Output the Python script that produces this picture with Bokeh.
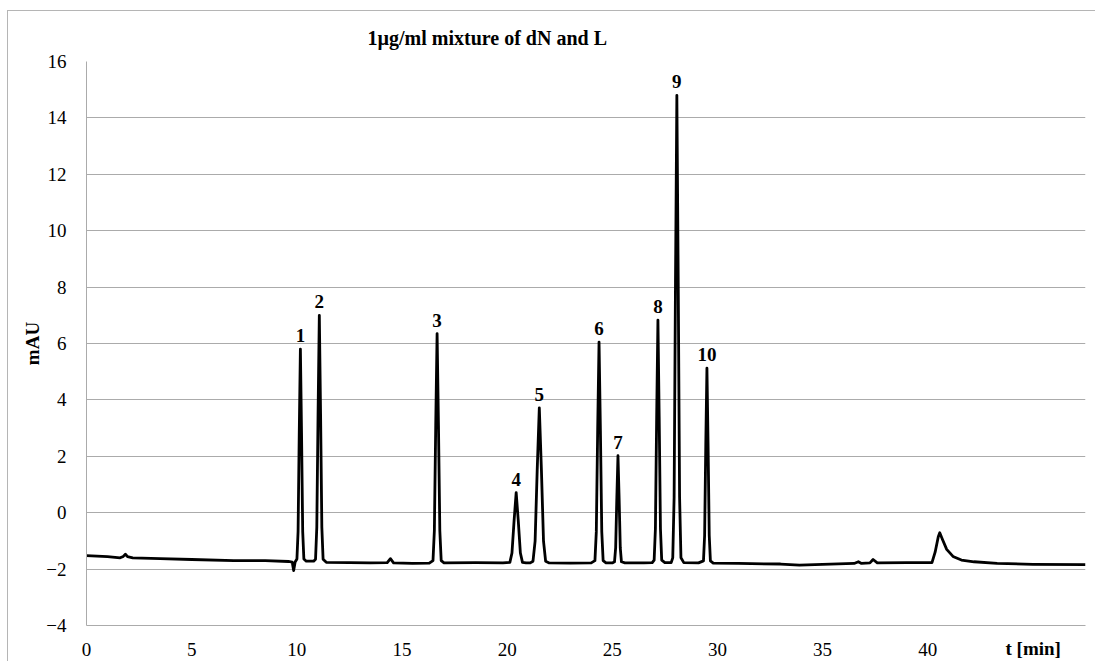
from bokeh.plotting import figure
from bokeh.models import Range1d, Title, FixedTicker, ColumnDataSource
from bokeh.embed import file_html
from bokeh.resources import INLINE
from bokeh.core.properties import value

# chromatogram trace (t in min, signal in mAU)
t_min = [0.0, 1.0, 1.6, 1.75, 1.85, 1.95, 2.2, 3.5, 5.0, 7.0, 8.5, 9.6, 9.78, 9.85, 9.92,
         10.005, 10.06, 10.115, 10.17, 10.225, 10.28, 10.335, 10.45, 10.8,
         10.89, 10.95, 11.01, 11.07, 11.13, 11.19, 11.25, 11.4,
         12.5, 13.5, 14.3, 14.45, 14.6, 15.5, 16.3,
         16.475, 16.54, 16.605, 16.67, 16.735, 16.8, 16.865, 17.0, 18.5, 19.8,
         20.13, 20.23, 20.33, 20.43, 20.53, 20.63, 20.73, 20.9, 21.1,
         21.23, 21.33, 21.43, 21.53, 21.63, 21.73, 21.83, 22.0, 23.0, 24.0,
         24.175, 24.24, 24.305, 24.37, 24.435, 24.5, 24.565, 24.7, 25.0,
         25.105, 25.16, 25.215, 25.27, 25.325, 25.38, 25.435, 25.6, 26.5, 26.9,
         26.99, 27.05, 27.11, 27.17, 27.23, 27.29, 27.35, 27.5, 27.8,
         27.875, 27.94, 28.005, 28.07, 28.135, 28.2, 28.265, 28.4, 29.1,
         29.335, 29.39, 29.445, 29.5, 29.555, 29.61, 29.665, 29.8,
         31.0, 33.0, 33.9, 35.0, 36.5, 36.7, 36.85, 37.25, 37.4, 37.6, 39.0, 40.2,
         40.35, 40.5, 40.57, 40.7, 40.9, 41.2, 41.6, 42.2, 43.3, 45.0, 47.5]
signal_mau = [-1.52, -1.56, -1.6, -1.55, -1.47, -1.56, -1.6, -1.63, -1.66, -1.7, -1.7, -1.73, -1.75, -2.05, -1.75,
              -1.64, -0.67, 2.79, 5.8, 2.79, -0.67, -1.64, -1.72, -1.72,
              -1.65, -0.52, 3.5, 7.0, 3.5, -0.52, -1.65, -1.76,
              -1.77, -1.78, -1.77, -1.63, -1.78, -1.8, -1.79,
              -1.7, -0.64, 3.1, 6.35, 3.1, -0.64, -1.7, -1.78, -1.77, -1.78,
              -1.76, -1.43, -0.29, 0.71, -0.29, -1.43, -1.76, -1.78, -1.78,
              -1.72, -1.01, 1.52, 3.72, 1.52, -1.01, -1.72, -1.78, -1.79, -1.78,
              -1.7, -0.68, 2.92, 6.05, 2.92, -0.68, -1.7, -1.78, -1.78,
              -1.74, -1.25, 0.5, 2.02, 0.5, -1.25, -1.74, -1.78, -1.78, -1.77,
              -1.68, -0.57, 3.39, 6.83, 3.39, -0.57, -1.68, -1.77, -1.77,
              -1.6, 0.55, 8.17, 14.8, 8.17, 0.55, -1.6, -1.77, -1.78,
              -1.71, -0.81, 2.37, 5.13, 2.37, -0.81, -1.71, -1.79,
              -1.8, -1.82, -1.86, -1.83, -1.8, -1.74, -1.8, -1.78, -1.66, -1.78, -1.77, -1.77,
              -1.4, -0.85, -0.71, -0.95, -1.3, -1.55, -1.68, -1.74, -1.8, -1.83, -1.84]

# peak annotations
peak_labels = ["1", "2", "3", "4", "5", "6", "7", "8", "9", "10"]
peak_t = [10.17, 11.07, 16.67, 20.43, 21.53, 24.37, 25.27, 27.17, 28.07, 29.5]
peak_h = [5.8, 7.0, 6.35, 0.71, 3.72, 6.05, 2.02, 6.83, 14.8, 5.13]

x_ticks = [0, 5, 10, 15, 20, 25, 30, 35, 40, 45]
y_ticks = [-4, -2, 0, 2, 4, 6, 8, 10, 12, 14, 16]

SERIF = "Liberation Serif"
GRID = "#ababab"
FS = "19px"

p = figure(width=1088, height=651, output_backend="svg", toolbar_location=None,
           x_range=Range1d(0, 47.5), y_range=Range1d(-4, 16),
           min_border_left=78, min_border_right=11, min_border_top=49, min_border_bottom=37)
p.styles = {"margin-left": "7px", "margin-top": "10px",
            "border-left": "1px solid #b5b5b5", "border-top": "1px solid #b5b5b5"}
p.outline_line_color = None
p.background_fill_color = "white"
p.border_fill_color = "white"

p.title = Title(text="1µg/ml mixture of dN and L", align="left", offset=281,
                text_font=SERIF, text_font_size="20px", text_font_style="bold",
                text_color="black", standoff=26)

p.xgrid.grid_line_color = None
p.ygrid.grid_line_color = GRID
p.ygrid.grid_line_width = 1

for ax in (p.xaxis[0], p.yaxis[0]):
    ax.axis_line_color = GRID
    ax.major_tick_line_color = None
    ax.minor_tick_line_color = None
    ax.major_label_text_font = SERIF
    ax.major_label_text_font_size = FS
    ax.major_label_text_color = "black"

xa = p.xaxis[0]
xa.ticker = FixedTicker(ticks=x_ticks)
xa.major_label_overrides = {45: ""}
xa.major_label_standoff = 11
# the label is centred on the axis end; trailing em/en spaces move the visible text under the 45 tick
xa.axis_label = "t [min]" + "\u2003" * 5 + "\u2002"
xa.axis_label_align = "end"
xa.axis_label_standoff = -21
xa.axis_label_text_font = SERIF
xa.axis_label_text_font_size = FS
xa.axis_label_text_font_style = "bold"
xa.axis_label_text_color = "black"

ya = p.yaxis[0]
ya.ticker = FixedTicker(ticks=y_ticks)
ya.major_label_standoff = 14
ya.axis_label = "mAU"
ya.axis_label_text_font = SERIF
ya.axis_label_text_font_size = FS
ya.axis_label_text_font_style = "bold"
ya.axis_label_text_color = "black"
ya.axis_label_standoff = 0

p.line(t_min, signal_mau, line_color="black", line_width=2.8, line_join="round")

src = ColumnDataSource(dict(x=peak_t, y=peak_h, label=peak_labels))
p.text(x="x", y="y", text="label", source=src, text_align="center", text_baseline="bottom",
       y_offset=-7, text_font=value(SERIF), text_font_size=FS, text_font_style="bold",
       text_color="black")

open("out.html", "w").write(file_html(p, INLINE))
